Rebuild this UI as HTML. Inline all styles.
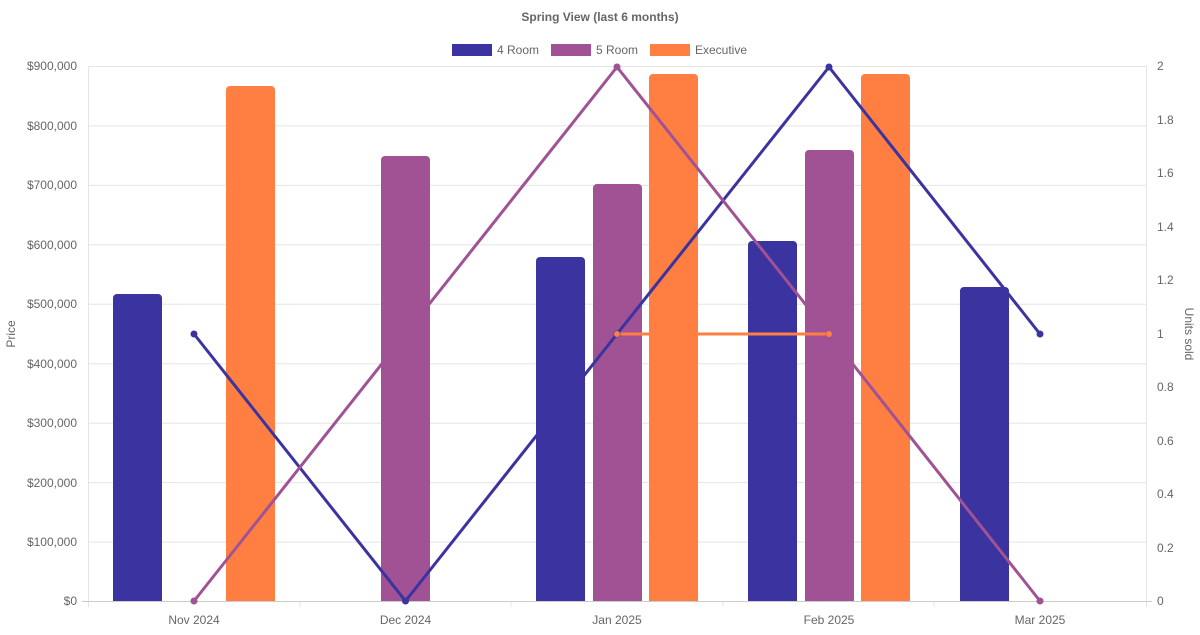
<!DOCTYPE html>
<html><head><meta charset="utf-8"><style>
body{margin:0;background:#fff;}
svg text{font-family:"Liberation Sans",sans-serif;fill:#666;font-size:12px;}
</style></head><body>
<svg width="1200" height="630" xmlns="http://www.w3.org/2000/svg">
<text x="600" y="21" text-anchor="middle" font-weight="bold">Spring View (last 6 months)</text>
<rect x="452" y="44" width="40" height="12" fill="#3a33a0"/><text x="497" y="54">4 Room</text>
<rect x="551" y="44" width="40" height="12" fill="#a05294"/><text x="596" y="54">5 Room</text>
<rect x="650" y="44" width="40" height="12" fill="#ff7f42"/><text x="695" y="54">Executive</text>
<g stroke="#e5e5e5" stroke-width="1">
<line x1="88" y1="66.5" x2="1146" y2="66.5"/><line x1="88" y1="125.9" x2="1146" y2="125.9"/><line x1="88" y1="185.4" x2="1146" y2="185.4"/><line x1="88" y1="244.8" x2="1146" y2="244.8"/><line x1="88" y1="304.3" x2="1146" y2="304.3"/><line x1="88" y1="363.7" x2="1146" y2="363.7"/><line x1="88" y1="423.2" x2="1146" y2="423.2"/><line x1="88" y1="482.6" x2="1146" y2="482.6"/><line x1="88" y1="542.1" x2="1146" y2="542.1"/>
<line x1="88.5" y1="66" x2="88.5" y2="607"/><line x1="1146.5" y1="66" x2="1146.5" y2="607"/>
<line x1="300" y1="601" x2="300" y2="607"/><line x1="511" y1="601" x2="511" y2="607"/><line x1="723" y1="601" x2="723" y2="607"/><line x1="934" y1="601" x2="934" y2="607"/>
<line x1="82" y1="601.5" x2="1152" y2="601.5" stroke="#ccc"/>
</g>
<g text-anchor="end">
<text x="77" y="70">$900,000</text><text x="77" y="130">$800,000</text><text x="77" y="189">$700,000</text><text x="77" y="249">$600,000</text><text x="77" y="308">$500,000</text><text x="77" y="368">$400,000</text><text x="77" y="427">$300,000</text><text x="77" y="487">$200,000</text><text x="77" y="546">$100,000</text><text x="77" y="605">$0</text>
</g>
<g>
<text x="1157" y="70">2</text><text x="1157" y="124">1.8</text><text x="1157" y="177">1.6</text><text x="1157" y="231">1.4</text><text x="1157" y="284">1.2</text><text x="1157" y="338">1</text><text x="1157" y="391">0.8</text><text x="1157" y="445">0.6</text><text x="1157" y="498">0.4</text><text x="1157" y="552">0.2</text><text x="1157" y="605">0</text>
</g>
<g text-anchor="middle">
<text x="194" y="624">Nov 2024</text><text x="405.5" y="624">Dec 2024</text><text x="617" y="624">Jan 2025</text><text x="829" y="624">Feb 2025</text><text x="1040" y="624">Mar 2025</text>
</g>
<text transform="translate(15,334) rotate(-90)" text-anchor="middle">Price</text>
<text transform="translate(1185,334) rotate(90)" text-anchor="middle">Units sold</text>
<g>
<path d="M113,601V298a4,4 0 0 1 4,-4h41a4,4 0 0 1 4,4V601Z" fill="#3a33a0"/>
<path d="M226,601V90a4,4 0 0 1 4,-4h41a4,4 0 0 1 4,4V601Z" fill="#ff7f42"/>
<path d="M381,601V160a4,4 0 0 1 4,-4h41a4,4 0 0 1 4,4V601Z" fill="#a05294"/>
<path d="M536,601V261a4,4 0 0 1 4,-4h41a4,4 0 0 1 4,4V601Z" fill="#3a33a0"/>
<path d="M593,601V188a4,4 0 0 1 4,-4h41a4,4 0 0 1 4,4V601Z" fill="#a05294"/>
<path d="M649,601V78a4,4 0 0 1 4,-4h41a4,4 0 0 1 4,4V601Z" fill="#ff7f42"/>
<path d="M748,601V245a4,4 0 0 1 4,-4h41a4,4 0 0 1 4,4V601Z" fill="#3a33a0"/>
<path d="M805,601V154a4,4 0 0 1 4,-4h41a4,4 0 0 1 4,4V601Z" fill="#a05294"/>
<path d="M861,601V78a4,4 0 0 1 4,-4h41a4,4 0 0 1 4,4V601Z" fill="#ff7f42"/>
<path d="M960,601V291a4,4 0 0 1 4,-4h41a4,4 0 0 1 4,4V601Z" fill="#3a33a0"/>
</g>
<g fill="none" stroke-width="3">
<polyline points="194,334 405.5,601 617,334 829,67 1040,334" stroke="#3a33a0"/>
<polyline points="194,601 405.5,334 617,67 829,334 1040,601" stroke="#a05294"/>
<polyline points="617,334 829,334" stroke="#ff7f42"/>
</g>
<g>
<circle cx="194" cy="334" r="3.5" fill="#3a33a0"/><circle cx="405.5" cy="601" r="3.5" fill="#3a33a0"/><circle cx="617" cy="334" r="3.5" fill="#3a33a0"/><circle cx="829" cy="67" r="3.5" fill="#3a33a0"/><circle cx="1040" cy="334" r="3.5" fill="#3a33a0"/>
<circle cx="194" cy="601" r="3.5" fill="#a05294"/><circle cx="617" cy="67" r="3.5" fill="#a05294"/><circle cx="829" cy="334" r="3.5" fill="#a05294"/><circle cx="1040" cy="601" r="3.5" fill="#a05294"/>
<circle cx="617" cy="334" r="3" fill="#ff7f42"/><circle cx="829" cy="334" r="3" fill="#ff7f42"/>
</g>
</svg>
</body></html>
